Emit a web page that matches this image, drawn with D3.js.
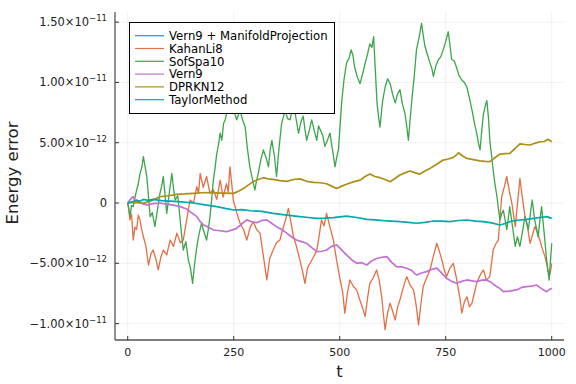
<!DOCTYPE html>
<html>
<head>
<meta charset="utf-8">
<script src="https://cdn.jsdelivr.net/npm/d3@7"></script>
<style>
  body { margin: 0; background: #fff; }
  svg { font-family: "DejaVu Sans", sans-serif; }
</style>
</head>
<body>
<div id="chart"></div>
<script>
// values in units of 1e-12, pairs of [t, error]
const manifold = [[0, 0], [4, 0]];

const kahanLi8 = [[0, 0], [3, -0.6], [5, -1.4], [9, -0.9], [13, -3.07], [17, -2.0], [21, -2.2], [25, -1.0],
  [29, -1.4], [33, -2.2], [37, -2.8], [43, -3.6], [49, -5.14], [55, -4.2], [60, -3.9], [66, -4.6],
  [72, -5.55], [78, -4.5], [84, -3.9], [92, -4.3], [100, -3.07], [108, -3.6], [116, -2.5], [124, -3.3],
  [131, -3.07], [139, -1.4], [147, 0.25], [155, 0.0], [163, 1.35], [167, 0.8], [171, 2.46], [178, 1.3],
  [186, 2.2], [194, 0.8], [202, 1.1], [210, 0.3], [218, 1.9], [225, 0.5], [233, 1.6], [237, 0.9],
  [241, 3.0], [245, 1.7], [249, 0.25], [257, -0.8], [265, -1.68], [273, -2.2], [281, -3.07], [289, -2.0],
  [296, -1.55], [304, -2.2], [312, -2.5], [320, -4.4], [328, -6.38], [335, -4.6], [343, -3.9], [351, -3.3],
  [359, -3.07], [367, -2.0], [373, -1.3], [379, -0.44], [385, -1.6], [391, -2.8], [398, -3.6],
  [406, -4.72], [412, -5.6], [418, -6.66], [424, -5.4], [430, -5.0], [438, -4.5], [446, -3.9], [452, -2.6],
  [457, -1.4], [463, -1.9], [469, -0.86], [477, -2.0], [485, -3.07], [493, -4.8], [501, -6.38], [507, -7.4],
  [512, -9.14], [518, -7.5], [524, -6.38], [532, -6.9], [540, -7.2], [548, -8.1], [554, -8.7], [560, -9.42],
  [566, -7.8], [571, -6.66], [579, -6.2], [587, -5.55], [593, -6.4], [599, -7.77], [603, -9.2], [607, -10.5],
  [613, -9.1], [619, -8.3], [625, -9.0], [631, -9.7], [636, -8.7], [642, -8.04], [650, -7.0], [658, -6.1],
  [666, -6.8], [674, -7.2], [680, -8.4], [686, -10.1], [691, -8.5], [697, -6.93], [705, -6.2],
  [713, -5.55], [721, -4.4], [729, -3.34], [735, -4.0], [741, -4.72], [747, -5.6], [752, -6.1], [760, -5.4],
  [768, -5.0], [774, -6.0], [780, -7.2], [784, -8.0], [788, -9.14], [794, -8.2], [800, -7.77], [806, -8.6],
  [812, -8.3], [818, -7.4], [823, -6.66], [831, -6.0], [839, -5.55], [846, -6.4], [854, -6.1],
  [858, -5.0], [862, -3.9], [868, -3.4], [874, -3.07], [878, -1.3], [882, 0.52], [888, 1.3], [894, 2.2],
  [900, 1.0], [906, 0.0], [910, -1.0], [914, -1.96], [920, 0.2], [925, 2.05], [931, 0.4], [937, -1.1],
  [943, -2.0], [949, -3.34], [955, -2.6], [960, -1.96], [966, -2.4], [972, -3.07], [978, -3.8],
  [984, -4.45], [988, -5.0], [992, -5.7], [996, -5.9], [1000, -5.0]];

const sofSpa10 = [[0, 0], [3, -0.6], [5, -1.13], [9, -0.2], [13, -0.3], [17, 0.4], [21, 1.08], [25, 1.6],
  [29, 2.46], [33, 2.9], [37, 3.84], [41, 3.0], [45, 2.2], [49, 0.5], [53, -1.13], [58, -0.8],
  [64, -1.96], [70, -0.6], [76, 0.8], [80, 1.4], [84, 2.2], [88, 0.7], [92, -0.86], [98, 0.8],
  [104, 2.46], [108, 1.2], [112, 0.25], [118, 0.6], [123, -1.13], [127, -2.6], [131, -3.9], [137, -3.2],
  [143, -4.72], [148, -5.4], [153, -6.66], [158, -5.0], [163, -3.62], [168, -2.6], [174, -1.68],
  [180, -2.4], [186, -3.07], [190, -2.2], [194, -1.13], [198, 0.3], [202, 1.9], [206, 2.9],
  [210, 4.1], [214, 4.8], [218, 5.8], [222, 5.2], [226, 6.6], [230, 6.9], [233, 7.4], [239, 7.9],
  [245, 8.5], [251, 7.6], [257, 6.9], [261, 7.3], [265, 7.7], [271, 6.9], [277, 6.3], [282, 4.6],
  [288, 3.0], [294, 2.0], [300, 1.08], [304, 1.9], [308, 2.46], [314, 3.6], [320, 4.4], [326, 3.8],
  [332, 3.0], [336, 4.4], [340, 5.2], [346, 3.9], [351, 2.2], [357, 4.6], [363, 6.6], [367, 7.1],
  [371, 7.7], [377, 7.0], [383, 6.9], [387, 7.6], [391, 8.3], [397, 7.0], [403, 5.8], [409, 6.8],
  [414, 7.2], [418, 6.1], [422, 5.2], [428, 6.0], [434, 6.9], [440, 6.0], [446, 5.2], [450, 6.4],
  [454, 6.1], [460, 5.6], [465, 4.7], [471, 5.2], [477, 5.8], [483, 4.4], [489, 3.0], [493, 3.8],
  [497, 4.4], [501, 6.5], [505, 8.5], [510, 10.2], [516, 11.6], [522, 12.0], [527, 12.7], [531, 12.3],
  [535, 11.3], [541, 10.5], [548, 9.9], [554, 10.7], [560, 11.6], [566, 12.4], [571, 13.2], [576, 12.9],
  [580, 13.8], [584, 11.0], [588, 8.3], [591, 7.3], [595, 6.3], [601, 8.4], [607, 9.6], [613, 10.3],
  [619, 9.9], [625, 9.0], [631, 8.3], [636, 9.0], [642, 9.4], [648, 8.2], [654, 7.4], [658, 6.4],
  [662, 5.2], [666, 6.9], [670, 8.5], [676, 10.6], [681, 12.7], [687, 13.7], [693, 14.9], [697, 13.9],
  [701, 13.0], [707, 12.3], [713, 11.6], [717, 11.2], [721, 10.5], [727, 11.4], [733, 11.9], [738, 12.1],
  [744, 12.7], [750, 13.4], [756, 14.2], [760, 13.1], [764, 11.9], [770, 11.8], [775, 11.3], [781, 10.6],
  [788, 10.2], [794, 10.0], [800, 9.6], [806, 8.7], [812, 7.7], [818, 6.6], [823, 5.8], [827, 5.0],
  [831, 4.4], [835, 6.0], [839, 7.4], [843, 8.0], [847, 8.5], [851, 7.0], [854, 5.2], [858, 4.0],
  [862, 2.7], [866, 1.6], [871, 0.5], [874, -0.4], [878, -1.4], [882, -0.9], [886, -0.6], [890, -1.4],
  [894, -2.2], [898, -1.2], [901, -0.3], [907, -1.8], [914, -3.6], [919, -2.8], [925, -3.6], [931, -2.4],
  [937, -1.13], [941, -1.6], [945, -2.2], [950, -0.8], [954, 0.25], [960, -1.4], [968, -2.8], [972, -1.5],
  [976, -0.3], [982, -2.4], [988, -4.7], [991, -5.6], [994, -6.4], [997, -4.8], [1000, -3.34]];

const vern9 = [[0, 0], [6, 0.3], [13, 0.52], [17, 0.2], [21, 0.25], [30, 0.0], [45, -0.17], [60, -0.05],
  [76, 0.0], [92, -0.1], [108, -0.17], [124, -0.3], [139, -0.5], [150, -0.8], [163, -1.13], [170, -1.5],
  [178, -1.8], [190, -2.0], [202, -2.24], [218, -2.3], [233, -2.38], [245, -2.25], [257, -2.1], [270, -1.7],
  [281, -1.4], [292, -1.55], [304, -1.63], [316, -1.45], [328, -1.4], [340, -1.7], [351, -1.96],
  [363, -2.2], [375, -2.5], [386, -2.8], [398, -3.07], [410, -3.2], [422, -3.34], [434, -3.7],
  [446, -4.03], [458, -4.0], [469, -3.9], [481, -3.6], [493, -3.48], [505, -3.9], [516, -4.3],
  [528, -4.7], [540, -5.0], [552, -4.95], [564, -5.14], [575, -4.8], [587, -4.6], [599, -4.5],
  [611, -4.45], [622, -4.9], [634, -5.28], [646, -5.3], [658, -5.41], [670, -5.6], [681, -5.97],
  [693, -5.8], [705, -5.69], [717, -5.5], [729, -5.4], [740, -5.8], [752, -6.24], [764, -6.5],
  [776, -6.66], [788, -6.5], [800, -6.38], [812, -6.45], [823, -6.52], [835, -6.4], [846, -6.38],
  [858, -6.6], [870, -6.93], [878, -7.1], [886, -7.35], [900, -7.3], [917, -7.21], [929, -7.0],
  [941, -6.93], [953, -6.9], [964, -6.8], [976, -7.1], [988, -7.35], [994, -7.2], [1000, -7.07]];

const dprkn12 = [[0, 0], [18, 0.05], [37, -0.03], [56, 0.2], [76, 0.52], [96, 0.6], [116, 0.72],
  [135, 0.75], [155, 0.8], [175, 0.85], [194, 0.86], [222, 0.82], [250, 0.8], [262, 1.0],
  [273, 1.2], [285, 1.5], [296, 1.77], [308, 1.95], [320, 2.1], [331, 2.0], [343, 1.96], [359, 1.85],
  [375, 1.8], [391, 1.95], [406, 2.0], [422, 1.8], [438, 1.71], [454, 1.68], [469, 1.6], [481, 1.4],
  [493, 1.2], [505, 1.4], [516, 1.55], [532, 1.75], [548, 1.9], [560, 2.2], [571, 2.4], [583, 2.2],
  [595, 2.1], [607, 1.95], [619, 1.77], [631, 2.05], [642, 2.32], [654, 2.5], [666, 2.65], [678, 2.5],
  [689, 2.4], [701, 2.65], [713, 2.87], [728, 3.2], [744, 3.56], [756, 3.65], [768, 3.78], [774, 3.95],
  [780, 4.17], [790, 3.9], [800, 3.7], [815, 3.6], [831, 3.5], [843, 3.45], [854, 3.43], [866, 3.75],
  [878, 4.06], [890, 4.1], [901, 4.12], [913, 4.5], [925, 4.9], [937, 4.85], [949, 4.81], [960, 4.95],
  [972, 5.08], [982, 5.1], [992, 5.28], [1000, 5.08]];

const taylor = [[0, 0], [10, 0.1], [20, 0.2], [28, 0.15], [37, 0.3], [48, 0.22], [60, 0.3], [80, 0.2],
  [100, 0.15], [128, 0.1], [155, 0.0], [182, -0.15], [210, -0.3], [230, -0.45], [250, -0.58], [270, -0.55],
  [290, -0.64], [316, -0.7], [343, -0.86], [375, -1.0], [406, -1.13], [426, -1.2], [446, -1.27],
  [465, -1.25], [485, -1.21], [500, -1.15], [516, -1.08], [540, -1.2], [564, -1.35], [584, -1.4],
  [603, -1.46], [622, -1.5], [642, -1.55], [662, -1.6], [681, -1.68], [701, -1.6], [721, -1.49],
  [740, -1.5], [760, -1.55], [780, -1.45], [800, -1.41], [820, -1.5], [839, -1.55], [858, -1.65],
  [878, -1.82], [890, -1.7], [901, -1.55], [913, -1.45], [925, -1.41], [941, -1.35], [957, -1.27],
  [972, -1.2], [988, -1.13], [1000, -1.27]];

const seriesNames = ["Vern9 + ManifoldProjection", "KahanLi8", "SofSpa10", "Vern9", "DPRKN12", "TaylorMethod"];
const seriesData = [manifold, kahanLi8, sofSpa10, vern9, dprkn12, taylor];
const seriesColors = ["#009AFA", "#E26F46", "#3DA44D", "#C271D2", "#AC8E18", "#00A9AD"];

const xTicks = [0, 250, 500, 750, 1000];
const yTicks = [-10, -5, 0, 5, 10, 15];
const yTickLabels = [["−1.00×10", "−11"], ["−5.00×10", "−12"], ["0", ""], ["5.00×10", "−12"], ["1.00×10", "−11"], ["1.50×10", "−11"]];

const W = 576, H = 384;
const pLeft = 115, pRight = 564, pTop = 12, pBottom = 340;

const svg = d3.select("#chart").append("svg")
  .attr("width", W)
  .attr("height", H);

const x = d3.scaleLinear().domain([-30, 1029]).range([pLeft, pRight]);
const y = d3.scaleLinear().domain([-11.36, 15.84]).range([pBottom, pTop]);

// grid
svg.append("g").selectAll("line")
  .data(xTicks).enter().append("line")
  .attr("x1", d => x(d)).attr("x2", d => x(d))
  .attr("y1", pTop).attr("y2", pBottom)
  .attr("stroke", "#000").attr("stroke-opacity", 0.1).attr("stroke-width", 0.6);
svg.append("g").selectAll("line")
  .data(yTicks).enter().append("line")
  .attr("x1", pLeft).attr("x2", pRight)
  .attr("y1", d => y(d)).attr("y2", d => y(d))
  .attr("stroke", "#000").attr("stroke-opacity", 0.1).attr("stroke-width", 0.6);

// series
const line = d3.line()
  .x(d => x(d[0]))
  .y(d => y(d[1]));

seriesData.forEach((data, i) => {
  svg.append("path")
    .datum(data)
    .attr("fill", "none")
    .attr("stroke", seriesColors[i])
    .attr("stroke-width", i === 1 || i === 2 ? 1.3 : 1.7)
    .attr("stroke-linejoin", "round")
    .attr("d", line);
});

// axes
const axisColor = "#555";
svg.append("line").attr("x1", pLeft).attr("x2", pRight).attr("y1", pBottom).attr("y2", pBottom)
  .attr("stroke", axisColor).attr("stroke-width", 1.3);
svg.append("line").attr("x1", pLeft).attr("x2", pLeft).attr("y1", pTop).attr("y2", pBottom)
  .attr("stroke", axisColor).attr("stroke-width", 1.3);

svg.append("g").selectAll("line")
  .data(xTicks).enter().append("line")
  .attr("x1", d => x(d)).attr("x2", d => x(d))
  .attr("y1", pBottom).attr("y2", pBottom - 4)
  .attr("stroke", "#333").attr("stroke-width", 1);
svg.append("g").selectAll("line")
  .data(yTicks).enter().append("line")
  .attr("x1", pLeft).attr("x2", pLeft + 4)
  .attr("y1", d => y(d)).attr("y2", d => y(d))
  .attr("stroke", "#333").attr("stroke-width", 1);

svg.append("g").selectAll("text")
  .data(xTicks).enter().append("text")
  .attr("x", d => x(d))
  .attr("y", 356)
  .attr("text-anchor", "middle")
  .attr("font-size", 11)
  .attr("fill", "#222")
  .text(d => d);

const yLab = svg.append("g").selectAll("text")
  .data(yTicks).enter().append("text")
  .attr("x", 107)
  .attr("y", d => y(d) + 4)
  .attr("text-anchor", "end")
  .attr("font-size", 11.5)
  .attr("fill", "#222");
yLab.append("tspan").text((d, i) => yTickLabels[i][0]);
yLab.append("tspan")
  .attr("dy", -5)
  .attr("font-size", 8.5)
  .text((d, i) => yTickLabels[i][1]);

svg.append("text")
  .attr("x", (pLeft + pRight) / 2)
  .attr("y", 377)
  .attr("text-anchor", "middle")
  .attr("font-size", 16.5)
  .attr("fill", "#222")
  .text("t");

svg.append("text")
  .attr("transform", `translate(18, ${(pTop + pBottom) / 2 - 3}) rotate(-90)`)
  .attr("text-anchor", "middle")
  .attr("font-size", 16.5)
  .attr("fill", "#222")
  .text("Energy error");

// legend
const legend = svg.append("g");
legend.append("rect")
  .attr("x", 129.5).attr("y", 22.5)
  .attr("width", 205).attr("height", 91)
  .attr("fill", "#fff")
  .attr("stroke", "#000")
  .attr("stroke-width", 1);

seriesNames.forEach((name, i) => {
  const ly = 35.7 + i * 12.8;
  legend.append("line")
    .attr("x1", 135).attr("x2", 164)
    .attr("y1", ly).attr("y2", ly)
    .attr("stroke", seriesColors[i])
    .attr("stroke-width", 1.2);
  legend.append("text")
    .attr("x", 169)
    .attr("y", ly + 4.2)
    .attr("font-size", 11.7)
    .attr("fill", "#000")
    .text(name);
});
</script>
</body>
</html>
